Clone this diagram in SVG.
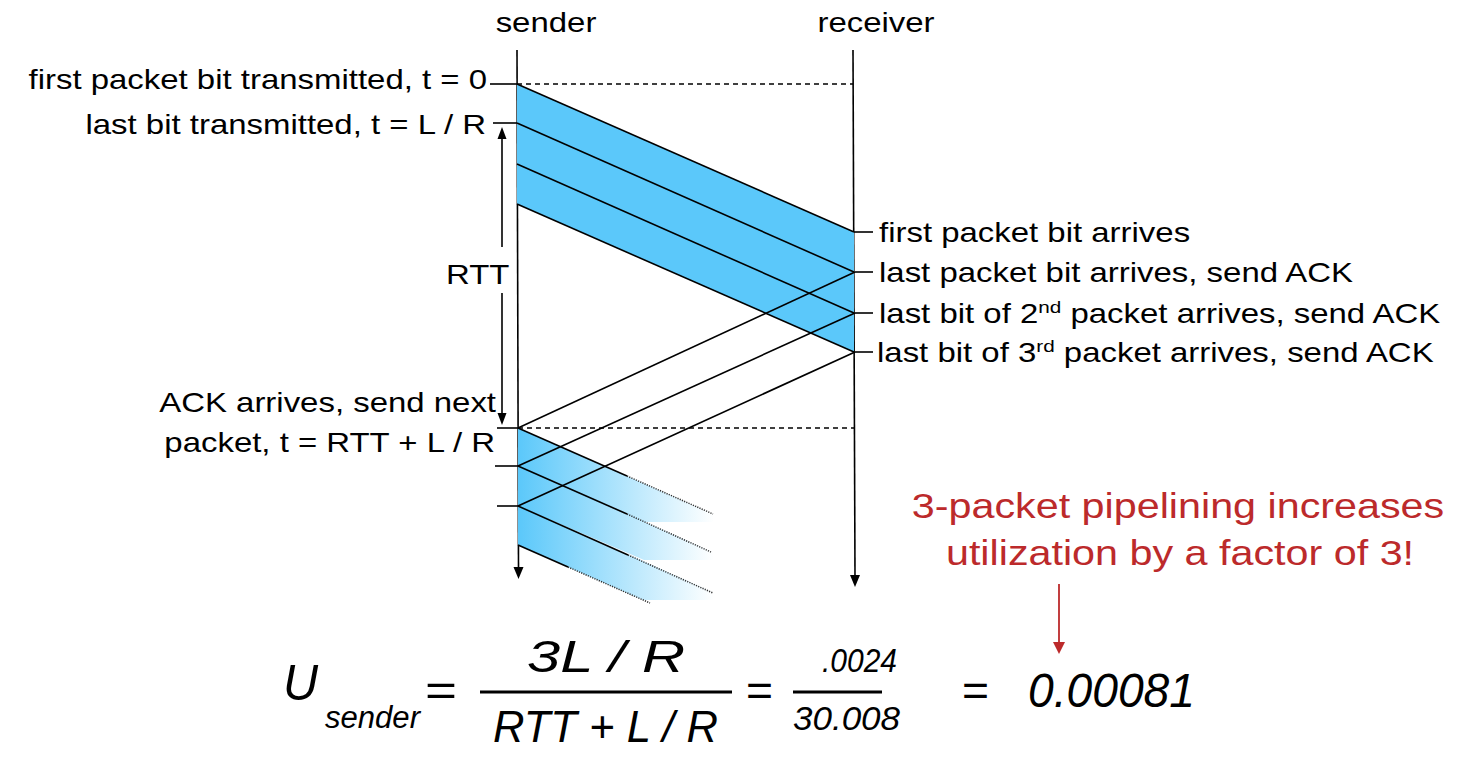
<svg xmlns="http://www.w3.org/2000/svg" width="1484" height="784" viewBox="0 0 1484 784">
<style>
text{font-family:"Liberation Sans",Arial,Helvetica,sans-serif;fill:#000}
.lbl{font-size:27px}
.red{font-size:35px;fill:#BC2A2B}
.it{font-style:italic}
.ln{stroke:#000;stroke-width:1.6;fill:none}
.tick{stroke:#000;stroke-width:1.6}
.dash{stroke:#000;stroke-width:1.5;stroke-dasharray:5,4;fill:none}
.dot{stroke:#333;stroke-width:1.5;stroke-dasharray:1.2,1.2;fill:none}
</style>
<defs>
<linearGradient id="fade" gradientUnits="userSpaceOnUse" x1="518" y1="0" x2="714" y2="0">
<stop offset="0" stop-color="#5BC8FA"/>
<stop offset="1" stop-color="#5BC8FA" stop-opacity="0"/>
</linearGradient>
</defs>

<g id="sender-line">
<line class="ln" x1="517" y1="50" x2="518.5" y2="568"/>
<polygon points="513.5,567 523.5,567 518.5,579" fill="#000"/>
<text class="lbl" text-anchor="middle" transform="translate(546,32) scale(1.22,1)">sender</text>
</g>
<g id="receiver-line">
<line class="ln" x1="853" y1="50" x2="855" y2="576"/>
<polygon points="850,575 860,575 855,587" fill="#000"/>
<text class="lbl" text-anchor="middle" transform="translate(876,32) scale(1.22,1)">receiver</text>
</g>

<g id="packets-first-round">
<polygon points="517,84 854,232 854,352 517,204" fill="#5BC8FA"/>
<line class="ln" x1="517" y1="84" x2="854" y2="232"/>
<line class="ln" x1="517" y1="123" x2="854" y2="272"/>
<line class="ln" x1="517" y1="164" x2="854" y2="313"/>
<line class="ln" x1="517" y1="204" x2="854" y2="352"/>
</g>

<g id="packets-second-round">
<polygon points="518,428 713,514 713,522 644,522 518,466" fill="url(#fade)"/>
<polygon points="518,466 713,552 713,560 644,560 518,506" fill="url(#fade)"/>
<polygon points="518,506 713,592 713,600 643,600 518,545" fill="url(#fade)"/>
<line class="ln" x1="518" y1="428" x2="627" y2="476"/>
<line class="dot" x1="627" y1="476" x2="713" y2="514"/>
<line class="ln" x1="518" y1="466" x2="627" y2="514"/>
<line class="dot" x1="627" y1="514" x2="711" y2="552"/>
<line class="ln" x1="518" y1="506" x2="628" y2="555"/>
<line class="dot" x1="628" y1="555" x2="713" y2="593"/>
<line class="ln" x1="518" y1="545" x2="568" y2="567"/>
<line class="dot" x1="568" y1="567" x2="650" y2="603"/>
</g>

<g id="connectors">
<line class="dash" x1="517" y1="84" x2="853" y2="84"/>
<line class="dash" x1="518" y1="428" x2="854" y2="428"/>
<line class="ln" x1="855" y1="272" x2="518" y2="428"/>
<line class="ln" x1="855" y1="313" x2="518" y2="466"/>
<line class="ln" x1="855" y1="352" x2="518" y2="506"/>
<line class="tick" x1="490" y1="84" x2="517" y2="84"/>
<line class="tick" x1="493" y1="123" x2="517" y2="123"/>
<line class="tick" x1="497" y1="428" x2="518" y2="428"/>
<line class="tick" x1="495" y1="466" x2="518" y2="466"/>
<line class="tick" x1="497" y1="506" x2="518" y2="506"/>
<line class="tick" x1="854" y1="232" x2="873" y2="232"/>
<line class="tick" x1="855" y1="272" x2="873" y2="272"/>
<line class="tick" x1="855" y1="313" x2="873" y2="313"/>
<line class="tick" x1="855" y1="352" x2="873" y2="352"/>
<line class="ln" x1="502" y1="138" x2="502" y2="247"/>
<polygon points="497.5,139 506.5,139 502,127" fill="#000"/>
<line class="ln" x1="502" y1="293" x2="502" y2="414"/>
<polygon points="497.5,413 506.5,413 502,425" fill="#000"/>
<line x1="1059" y1="584" x2="1059" y2="643" stroke="#BC2A2B" stroke-width="1.8"/>
<polygon points="1053,642 1065,642 1059,654" fill="#BC2A2B"/>
</g>

<g id="labels">
<text class="lbl" text-anchor="end" transform="translate(487,89) scale(1.22,1)">first packet bit transmitted, t = 0</text>
<text class="lbl" text-anchor="end" transform="translate(486,134) scale(1.22,1)">last bit transmitted, t = L / R</text>
<text class="lbl" transform="translate(446,284) scale(1.22,1)">RTT</text>
<text class="lbl" text-anchor="end" transform="translate(496,412) scale(1.22,1)">ACK arrives, send next</text>
<text class="lbl" text-anchor="end" transform="translate(495,452) scale(1.22,1)">packet, t = RTT + L / R</text>
<text class="lbl" transform="translate(879,242) scale(1.22,1)">first packet bit arrives</text>
<text class="lbl" transform="translate(879,282) scale(1.22,1)">last packet bit arrives, send ACK</text>
<text class="lbl" transform="translate(879,323) scale(1.22,1)">last bit of 2<tspan font-size="17" dy="-10">nd</tspan><tspan dy="10"> packet arrives, send ACK</tspan></text>
<text class="lbl" transform="translate(877,362) scale(1.22,1)">last bit of 3<tspan font-size="17" dy="-10">rd</tspan><tspan dy="10"> packet arrives, send ACK</tspan></text>
<text class="red" text-anchor="middle" transform="translate(1178,518) scale(1.18,1)">3-packet pipelining increases</text>
<text class="red" text-anchor="middle" transform="translate(1180,565) scale(1.18,1)">utilization by a factor of 3!</text>
</g>

<g id="formula">
<text class="it" x="283" y="700" font-size="50" textLength="35" lengthAdjust="spacingAndGlyphs">U</text>
<text class="it" x="325" y="728" font-size="31" textLength="95" lengthAdjust="spacingAndGlyphs">sender</text>
<text x="425" y="706" font-size="44" textLength="32" lengthAdjust="spacingAndGlyphs">=</text>
<text class="it" x="527" y="672" font-size="45" textLength="158" lengthAdjust="spacingAndGlyphs">3L / R</text>
<line x1="480" y1="692" x2="732" y2="692" stroke="#000" stroke-width="3"/>
<text class="it" x="493" y="742" font-size="45" textLength="225" lengthAdjust="spacingAndGlyphs">RTT + L / R</text>
<text x="746" y="706" font-size="44" textLength="27" lengthAdjust="spacingAndGlyphs">=</text>
<text class="it" x="822" y="672" font-size="34" textLength="75" lengthAdjust="spacingAndGlyphs">.0024</text>
<line x1="793" y1="692" x2="882" y2="692" stroke="#000" stroke-width="3"/>
<text class="it" x="793" y="730" font-size="34" textLength="107" lengthAdjust="spacingAndGlyphs">30.008</text>
<text x="962" y="706" font-size="44" textLength="27" lengthAdjust="spacingAndGlyphs">=</text>
<text class="it" x="1028" y="707" font-size="48" textLength="167" lengthAdjust="spacingAndGlyphs">0.00081</text>
</g>
</svg>
